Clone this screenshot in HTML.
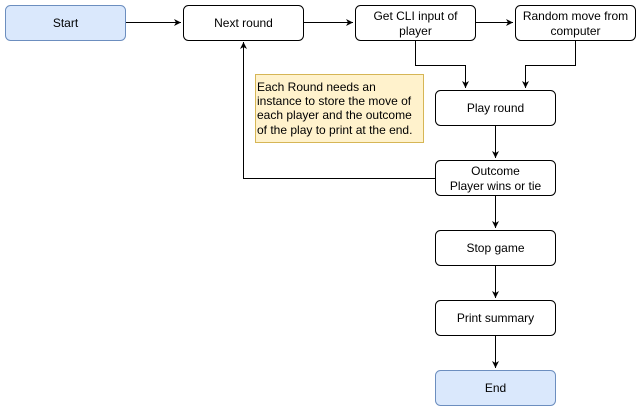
<!DOCTYPE html>
<html><head><meta charset="utf-8"><style>
body{margin:0;background:#fff;}
text{font-family:"Liberation Sans",Arial,sans-serif;font-size:12px;fill:#000;}
</style></head><body>
<svg width="641" height="411" viewBox="0 0 641 411" xmlns="http://www.w3.org/2000/svg">
<defs><marker id="a" markerWidth="8" markerHeight="8" refX="7" refY="4" orient="auto" markerUnits="userSpaceOnUse"><path d="M0,0.5 L7,4 L0,7.5 L2,4 Z" fill="#000"/></marker></defs>
<g fill="none" stroke="#000" stroke-width="1">
<path d="M126,22.5 H181" marker-end="url(#a)"/>
<path d="M304,22.5 H353" marker-end="url(#a)"/>
<path d="M476,22.5 H513" marker-end="url(#a)"/>
<path d="M415.5,40 V65.5 H465.5 V88" marker-end="url(#a)"/>
<path d="M575.5,40 V65.5 H525.5 V88" marker-end="url(#a)"/>
<path d="M495.5,125 V158" marker-end="url(#a)"/>
<path d="M435,178.5 H243.5 V42" marker-end="url(#a)"/>
<path d="M495.5,195 V228" marker-end="url(#a)"/>
<path d="M495.5,265 V298" marker-end="url(#a)"/>
<path d="M495.5,335 V368" marker-end="url(#a)"/>
</g>
<g stroke="#000" stroke-width="1" fill="#fff">
<rect x="5.5" y="5.5" width="120" height="35" rx="5" fill="#dae8fc" stroke="#6c8ebf"/>
<rect x="183.5" y="5.5" width="120" height="35" rx="5"/>
<rect x="355.5" y="5.5" width="120" height="35" rx="5"/>
<rect x="515.5" y="5.5" width="120" height="35" rx="5"/>
<rect x="435.5" y="90.5" width="120" height="35" rx="5"/>
<rect x="435.5" y="160.5" width="120" height="35" rx="5"/>
<rect x="435.5" y="230.5" width="120" height="35" rx="5"/>
<rect x="435.5" y="300.5" width="120" height="35" rx="5"/>
<rect x="435.5" y="370.5" width="120" height="35" rx="5" fill="#dae8fc" stroke="#6c8ebf"/>
<rect x="255.5" y="74.5" width="168" height="68" fill="#fff2cc" stroke="#d6b656"/>
</g>
<g text-anchor="middle">
<text x="65.5" y="27">Start</text>
<text x="243.5" y="27">Next round</text>
<text x="415.5" y="20">Get CLI input of</text>
<text x="415.5" y="35">player</text>
<text x="575.5" y="20">Random move from</text>
<text x="575.5" y="35">computer</text>
<text x="495.5" y="112">Play round</text>
<text x="495.5" y="175">Outcome</text>
<text x="495.5" y="190">Player wins or tie</text>
<text x="495.5" y="252">Stop game</text>
<text x="495.5" y="322">Print summary</text>
<text x="495.5" y="392">End</text>
</g>
<text x="257" y="91">Each Round needs an</text>
<text x="257" y="105">instance to store the move of</text>
<text x="257" y="119">each player and the outcome</text>
<text x="257" y="134">of the play to print at the end.</text>
</svg>
</body></html>
